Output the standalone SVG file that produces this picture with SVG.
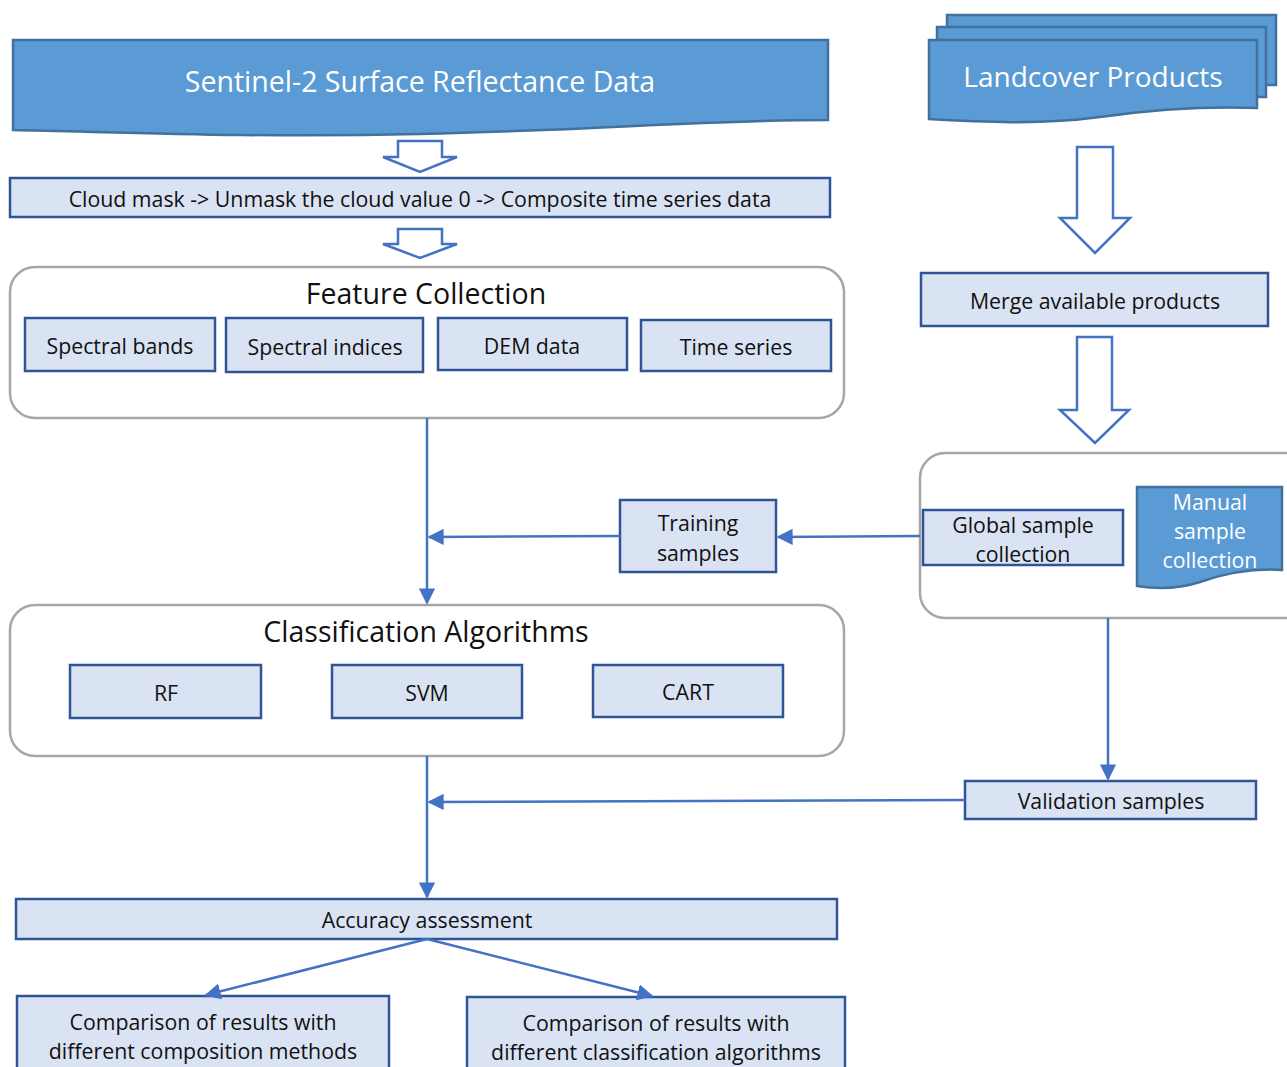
<svg xmlns="http://www.w3.org/2000/svg" width="1287" height="1067" viewBox="0 0 1287 1067">
<defs>
<style>
text{font-family:"Open Sans","Noto Sans","Liberation Sans",sans-serif;text-anchor:middle;dominant-baseline:central;fill:#111}
.dark{fill:#5B9BD5;stroke:#41719C;stroke-width:2.5}
.box{fill:#DAE3F3;stroke:#2F5597;stroke-width:2.5}
.cont{fill:#fff;stroke:#A6A6A6;stroke-width:2.5}
.blk{fill:#fff;stroke:#4472C4;stroke-width:2.5;stroke-linejoin:miter}
.wt{fill:#fff}
.t{font-size:21.3px}
.ti{font-size:28.5px}
.con{stroke:#4472C4;stroke-width:2.5;fill:none}
</style>
<marker id="ah" viewBox="0 0 10 10" refX="9" refY="5" markerWidth="6.5" markerHeight="6.5" markerUnits="strokeWidth" orient="auto"><path d="M0,0 L10,5 L0,10 z" fill="#4472C4"/></marker>
</defs>

<g id="sentinel">
<path class="dark" d="M13,40 H828 V120 C700,120 600,130 420,134 C250,138 120,132 13,130 Z"/>
<text class="wt" x="420" y="81" style="font-size:28.5px">Sentinel-2 Surface Reflectance Data</text>
</g>
<g id="arrow1"><path class="blk" d="M398,141 H442 V157 H457 L420,172 L383,157 H398 Z"/></g>
<g id="cloud">
<rect class="box" x="10" y="178" width="820" height="39"/>
<text class="t" x="420" y="198">Cloud mask -&gt; Unmask the cloud value 0 -&gt; Composite time series data</text>
</g>
<g id="arrow2"><path class="blk" d="M398,229 H442 V244 H457 L420,258 L383,244 H398 Z"/></g>

<g id="feature">
<rect class="cont" x="10" y="267" width="834" height="151" rx="25"/>
<text class="ti" x="426" y="293">Feature Collection</text>
<rect class="box" x="25" y="318" width="190" height="53"/>
<text class="t" x="120" y="345">Spectral bands</text>
<rect class="box" x="226" y="318" width="197" height="54"/>
<text class="t" x="325" y="346">Spectral indices</text>
<rect class="box" x="438" y="318" width="189" height="52"/>
<text class="t" x="532" y="345">DEM data</text>
<rect class="box" x="641" y="320" width="190" height="51"/>
<text class="t" x="736" y="346">Time series</text>
</g>

<g id="landcover">
<rect class="dark" x="947" y="15" width="329" height="70"/>
<rect class="dark" x="937" y="27" width="329" height="70"/>
<path class="dark" d="M929,40 H1257 V108 C1200,106 1150,110 1100,117 C1040,125 990,122 929,119 Z"/>
<text class="wt" x="1093" y="76" style="font-size:28px">Landcover Products</text>
</g>
<g id="arrow3"><path class="blk" d="M1077,147 H1113 V218 H1130 L1095,253 L1060,218 H1077 Z"/></g>
<g id="merge">
<rect class="box" x="921" y="273" width="347" height="53"/>
<text class="t" x="1095" y="300">Merge available products</text>
</g>
<g id="arrow4"><path class="blk" d="M1077,337 H1112 V410 H1129 L1095,443 L1060,410 H1077 Z"/></g>

<g id="samples">
<rect class="cont" x="920" y="453" width="390" height="165" rx="25"/>
<rect class="box" x="923" y="510" width="200" height="55"/>
<text class="t" x="1023" y="524">Global sample</text>
<text class="t" x="1023" y="553">collection</text>
<path class="dark" d="M1137,487 H1282 V570 C1250,568 1220,575 1200,582 C1175,590 1155,589 1137,586 Z"/>
<text class="wt t" x="1210" y="501">Manual</text>
<text class="wt t" x="1210" y="530">sample</text>
<text class="wt t" x="1210" y="559">collection</text>
</g>

<g id="training">
<rect class="box" x="620" y="500" width="156" height="72"/>
<text class="t" x="698" y="522">Training</text>
<text class="t" x="698" y="552">samples</text>
</g>

<g id="classification">
<rect class="cont" x="10" y="605" width="834" height="151" rx="25"/>
<text class="ti" x="426" y="631">Classification Algorithms</text>
<rect class="box" x="70" y="665" width="191" height="53"/>
<text class="t" x="166" y="692">RF</text>
<rect class="box" x="332" y="665" width="190" height="53"/>
<text class="t" x="427" y="692">SVM</text>
<rect class="box" x="593" y="665" width="190" height="52"/>
<text class="t" x="688" y="691">CART</text>
</g>

<g id="validation">
<rect class="box" x="965" y="781" width="291" height="38"/>
<text class="t" x="1111" y="800">Validation samples</text>
</g>

<g id="accuracy">
<rect class="box" x="16" y="899" width="821" height="40"/>
<text class="t" x="427" y="919">Accuracy assessment</text>
</g>
<g id="comp1">
<rect class="box" x="17" y="996" width="372" height="80"/>
<text class="t" x="203" y="1021">Comparison of results with</text>
<text class="t" x="203" y="1050">different composition methods</text>
</g>
<g id="comp2">
<rect class="box" x="467" y="997" width="378" height="80"/>
<text class="t" x="656" y="1022">Comparison of results with</text>
<text class="t" x="656" y="1051">different classification algorithms</text>
</g>

<g id="connectors">
<path class="con" d="M427,418 V603" marker-end="url(#ah)"/>
<path class="con" d="M620,536 L429,537" marker-end="url(#ah)"/>
<path class="con" d="M920,536 L778,537" marker-end="url(#ah)"/>
<path class="con" d="M1108,618 V779" marker-end="url(#ah)"/>
<path class="con" d="M965,800 L429,802" marker-end="url(#ah)"/>
<path class="con" d="M427,756 V897" marker-end="url(#ah)"/>
<path class="con" d="M427,939 L206,995" marker-end="url(#ah)"/>
<path class="con" d="M427,939 L652,996" marker-end="url(#ah)"/>
</g>
</svg>
